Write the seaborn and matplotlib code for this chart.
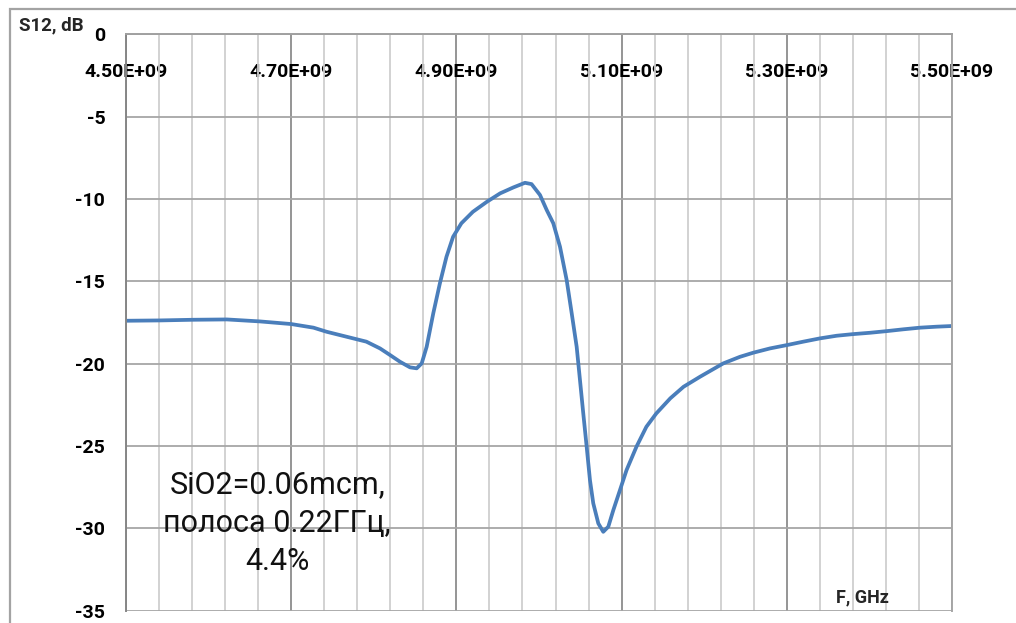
import numpy as np
import pandas as pd
import seaborn as sns
import matplotlib.pyplot as plt
from matplotlib.patches import Rectangle
from matplotlib.ticker import MultipleLocator, FuncFormatter

# S12 vs frequency
freq_ghz = [4.500, 4.541, 4.581, 4.622, 4.662, 4.700, 4.727, 4.743, 4.767,
            4.791, 4.8075, 4.8196, 4.8317, 4.8438, 4.8519, 4.858, 4.864,
            4.872, 4.880, 4.888, 4.896, 4.906, 4.920, 4.937, 4.953, 4.969,
            4.983, 4.991, 5.0012, 5.0093, 5.0173, 5.0254, 5.0335, 5.0396,
            5.0456, 5.0496, 5.0536, 5.0577, 5.0617, 5.0657, 5.0718, 5.0778,
            5.0839, 5.090, 5.098, 5.106, 5.118, 5.130, 5.142, 5.159, 5.175,
            5.195, 5.2231, 5.2433, 5.2595, 5.2797, 5.2999, 5.320, 5.3402,
            5.3604, 5.3806, 5.4007, 5.4209, 5.441, 5.4613, 5.4814, 5.4996]
s12_db = [-17.40, -17.38, -17.34, -17.32, -17.44, -17.60, -17.82, -18.07, -18.37,
          -18.67, -19.08, -19.48, -19.89, -20.23, -20.29, -19.99, -18.98,
          -16.95, -15.13, -13.51, -12.30, -11.48, -10.78, -10.17, -9.66, -9.30,
          -9.02, -9.10, -9.76, -10.67, -11.48, -12.90, -14.93, -16.95,
          -18.98, -21.00, -23.03, -25.05, -27.08, -28.49, -29.71, -30.22,
          -29.91, -28.90, -27.69, -26.47, -25.05, -23.84, -23.03, -22.11, -21.41,
          -20.80, -19.99, -19.59, -19.34, -19.08, -18.88, -18.67, -18.47,
          -18.31, -18.21, -18.13, -18.03, -17.92, -17.82, -17.76, -17.72]

y_ticks = [0, -5, -10, -15, -20, -25, -30, -35]
note_lines = ["SiO2=0.06mcm,", "полоса 0.22ГГц,", "4.4%"]


def main() -> None:
    sns.set_style("white")
    plt.rcParams["font.family"] = ["Roboto", "DejaVu Sans"]
    plt.rcParams["font.weight"] = "bold"
    plt.rcParams["axes.unicode_minus"] = False

    df = pd.DataFrame({"f": np.array(freq_ghz) * 1e9, "s12": s12_db})

    fig = plt.figure(figsize=(10.16, 6.23), dpi=100)
    ax = fig.add_axes([126 / 1016, 12.5 / 623, 826 / 1016, 576.2 / 623])

    sns.lineplot(data=df, x="f", y="s12", color="#4A7EBB", linewidth=2.7, ax=ax)

    ax.set_xlim(4.5e9, 5.5e9)
    ax.set_ylim(-35, 0)
    ax.set_yticks(y_ticks)
    ax.xaxis.set_major_locator(MultipleLocator(0.2e9, offset=0.1e9))
    ax.xaxis.set_minor_locator(MultipleLocator(0.04e9, offset=0.02e9))
    ax.xaxis.set_major_formatter(FuncFormatter(lambda v, p: f"{v:.2E}"))

    # Excel-like: the category axis crosses at y = 0 (top), labels below it
    ax.spines["bottom"].set_position(("data", 0))
    ax.spines["bottom"].set_color("#a0a0a0")
    ax.spines["top"].set_visible(False)
    ax.spines["left"].set_color("#868686")
    ax.spines["right"].set_color("#a6a6a6")
    for s in ("bottom", "left", "right"):
        ax.spines[s].set_linewidth(1.4)

    ax.grid(True, axis="x", which="major", color="#8c8c8c", linewidth=1.3)
    ax.grid(True, axis="x", which="minor", color="#cfcfcf", linewidth=1.3)
    ax.grid(True, axis="y", which="major", color="#a6a6a6", linewidth=1.3)
    ax.set_axisbelow(True)

    ax.tick_params(axis="x", which="both", length=0, pad=21, labelsize=14,
                   labelcolor="black")
    ax.tick_params(axis="y", length=6, width=1.2, color="#a6a6a6", pad=9,
                   labelsize=14, labelcolor="black")

    ax.set_ylabel("S12, dB", rotation=0, fontsize=13.5, fontweight="bold",
                  va="center", ha="center")
    ax.yaxis.set_label_coords(-0.091, 1.016)
    ax.set_xlabel("F, GHz", fontsize=13, fontweight="bold", va="center")
    ax.xaxis.set_label_coords(0.892, 0.0234)

    ax.text(4.683e9, -29.7, "\n".join(note_lines), ha="center", va="center",
            fontsize=22, linespacing=1.4, color="#111111", fontweight="normal",
            family=["Roboto", "DejaVu Sans"])

    fig.add_artist(Rectangle((9.5 / 1016, -0.1), 1.2, 0.1 + 1 - 9.5 / 623,
                             transform=fig.transFigure, fill=False,
                             edgecolor="#a3a3a3", linewidth=1.6))

    fig.savefig("out.png", dpi=100)


if __name__ == "__main__":
    main()
